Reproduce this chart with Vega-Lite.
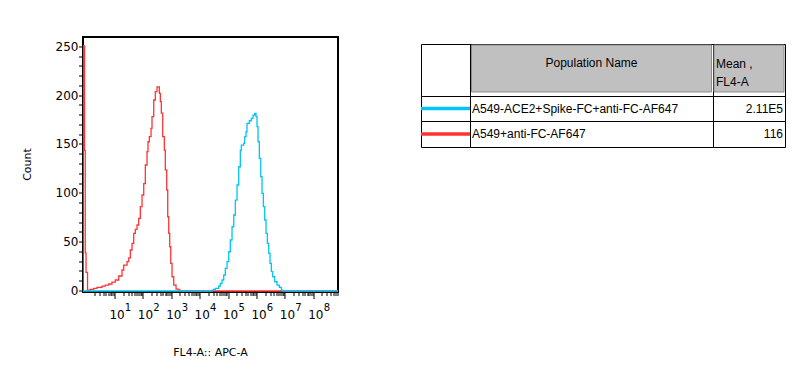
{
  "$schema": "https://vega.github.io/schema/vega-lite/v6.json",
  "padding": {"left": 20, "top": 36, "right": 5, "bottom": 5},
  "config": {
    "view": {"stroke": null},
    "font": "DejaVu Sans",
    "axis": {"translate": 0, "labelColor": "black", "tickColor": "black", "domainColor": "black", "titleColor": "black", "titleFontWeight": "normal", "grid": false},
    "text": {"font": "Liberation Sans", "fontSize": 12, "color": "black"}
  },
  "datasets": {
    "hist": [
      {"population": "A549+anti-FC-AF647", "fl4a": 0.75, "count": 0},
      {"population": "A549+anti-FC-AF647", "fl4a": 0.76, "count": 251},
      {"population": "A549+anti-FC-AF647", "fl4a": 0.843, "count": 144},
      {"population": "A549+anti-FC-AF647", "fl4a": 0.893, "count": 39},
      {"population": "A549+anti-FC-AF647", "fl4a": 0.953, "count": 19},
      {"population": "A549+anti-FC-AF647", "fl4a": 1.076, "count": 1},
      {"population": "A549+anti-FC-AF647", "fl4a": 1.35, "count": 1.7},
      {"population": "A549+anti-FC-AF647", "fl4a": 1.78, "count": 2.7},
      {"population": "A549+anti-FC-AF647", "fl4a": 2.32, "count": 3.8},
      {"population": "A549+anti-FC-AF647", "fl4a": 3.48, "count": 5.1},
      {"population": "A549+anti-FC-AF647", "fl4a": 4.55, "count": 6.1},
      {"population": "A549+anti-FC-AF647", "fl4a": 6.0, "count": 7.2},
      {"population": "A549+anti-FC-AF647", "fl4a": 7.8, "count": 9.2},
      {"population": "A549+anti-FC-AF647", "fl4a": 10.2, "count": 11.3},
      {"population": "A549+anti-FC-AF647", "fl4a": 13.5, "count": 15.4},
      {"population": "A549+anti-FC-AF647", "fl4a": 17.6, "count": 21.5},
      {"population": "A549+anti-FC-AF647", "fl4a": 20.2, "count": 26.6},
      {"population": "A549+anti-FC-AF647", "fl4a": 26.5, "count": 30},
      {"population": "A549+anti-FC-AF647", "fl4a": 30.4, "count": 34},
      {"population": "A549+anti-FC-AF647", "fl4a": 34.6, "count": 42},
      {"population": "A549+anti-FC-AF647", "fl4a": 39.7, "count": 48.8},
      {"population": "A549+anti-FC-AF647", "fl4a": 45.5, "count": 59},
      {"population": "A549+anti-FC-AF647", "fl4a": 51.9, "count": 63},
      {"population": "A549+anti-FC-AF647", "fl4a": 59.5, "count": 67.6},
      {"population": "A549+anti-FC-AF647", "fl4a": 68.3, "count": 74.4},
      {"population": "A549+anti-FC-AF647", "fl4a": 77.8, "count": 86.3},
      {"population": "A549+anti-FC-AF647", "fl4a": 89.3, "count": 98.3},
      {"population": "A549+anti-FC-AF647", "fl4a": 102.5, "count": 110},
      {"population": "A549+anti-FC-AF647", "fl4a": 116.7, "count": 129},
      {"population": "A549+anti-FC-AF647", "fl4a": 134, "count": 142.6},
      {"population": "A549+anti-FC-AF647", "fl4a": 145, "count": 152.8},
      {"population": "A549+anti-FC-AF647", "fl4a": 161.4, "count": 158},
      {"population": "A549+anti-FC-AF647", "fl4a": 185.2, "count": 166.5},
      {"population": "A549+anti-FC-AF647", "fl4a": 200.8, "count": 178.4},
      {"population": "A549+anti-FC-AF647", "fl4a": 230.5, "count": 195.5},
      {"population": "A549+anti-FC-AF647", "fl4a": 262.4, "count": 204},
      {"population": "A549+anti-FC-AF647", "fl4a": 301, "count": 209},
      {"population": "A549+anti-FC-AF647", "fl4a": 335, "count": 209},
      {"population": "A549+anti-FC-AF647", "fl4a": 363, "count": 202.4},
      {"population": "A549+anti-FC-AF647", "fl4a": 394, "count": 193.8},
      {"population": "A549+anti-FC-AF647", "fl4a": 427, "count": 182},
      {"population": "A549+anti-FC-AF647", "fl4a": 478, "count": 158},
      {"population": "A549+anti-FC-AF647", "fl4a": 544, "count": 144.3},
      {"population": "A549+anti-FC-AF647", "fl4a": 590, "count": 124},
      {"population": "A549+anti-FC-AF647", "fl4a": 661, "count": 103.4},
      {"population": "A549+anti-FC-AF647", "fl4a": 717, "count": 76},
      {"population": "A549+anti-FC-AF647", "fl4a": 778, "count": 59},
      {"population": "A549+anti-FC-AF647", "fl4a": 843, "count": 45.3},
      {"population": "A549+anti-FC-AF647", "fl4a": 915, "count": 28.4},
      {"population": "A549+anti-FC-AF647", "fl4a": 1016, "count": 14.6},
      {"population": "A549+anti-FC-AF647", "fl4a": 1167, "count": 6.1},
      {"population": "A549+anti-FC-AF647", "fl4a": 1406, "count": 2},
      {"population": "A549+anti-FC-AF647", "fl4a": 1750, "count": 1},
      {"population": "A549+anti-FC-AF647", "fl4a": 1991, "count": 0},
      {"population": "A549+anti-FC-AF647", "fl4a": 710000000, "count": 0},
      {"population": "A549-ACE2+Spike-FC+anti-FC-AF647", "fl4a": 0.75, "count": 0},
      {"population": "A549-ACE2+Spike-FC+anti-FC-AF647", "fl4a": 26000, "count": 1},
      {"population": "A549-ACE2+Spike-FC+anti-FC-AF647", "fl4a": 29850, "count": 1.7},
      {"population": "A549-ACE2+Spike-FC+anti-FC-AF647", "fl4a": 34030, "count": 2.7},
      {"population": "A549-ACE2+Spike-FC+anti-FC-AF647", "fl4a": 44800, "count": 5.1},
      {"population": "A549-ACE2+Spike-FC+anti-FC-AF647", "fl4a": 51050, "count": 7.9},
      {"population": "A549-ACE2+Spike-FC+anti-FC-AF647", "fl4a": 58600, "count": 11.3},
      {"population": "A549-ACE2+Spike-FC+anti-FC-AF647", "fl4a": 67200, "count": 16.4},
      {"population": "A549-ACE2+Spike-FC+anti-FC-AF647", "fl4a": 76500, "count": 23.2},
      {"population": "A549-ACE2+Spike-FC+anti-FC-AF647", "fl4a": 87900, "count": 30},
      {"population": "A549-ACE2+Spike-FC+anti-FC-AF647", "fl4a": 100900, "count": 40.2},
      {"population": "A549-ACE2+Spike-FC+anti-FC-AF647", "fl4a": 114800, "count": 52.2},
      {"population": "A549-ACE2+Spike-FC+anti-FC-AF647", "fl4a": 131800, "count": 65.8},
      {"population": "A549-ACE2+Spike-FC+anti-FC-AF647", "fl4a": 151300, "count": 77.8},
      {"population": "A549-ACE2+Spike-FC+anti-FC-AF647", "fl4a": 172200, "count": 93.1},
      {"population": "A549-ACE2+Spike-FC+anti-FC-AF647", "fl4a": 197700, "count": 108.5},
      {"population": "A549-ACE2+Spike-FC+anti-FC-AF647", "fl4a": 227000, "count": 127.2},
      {"population": "A549-ACE2+Spike-FC+anti-FC-AF647", "fl4a": 258200, "count": 144.3},
      {"population": "A549-ACE2+Spike-FC+anti-FC-AF647", "fl4a": 280000, "count": 149.4},
      {"population": "A549-ACE2+Spike-FC+anti-FC-AF647", "fl4a": 340400, "count": 151.2},
      {"population": "A549-ACE2+Spike-FC+anti-FC-AF647", "fl4a": 368900, "count": 158},
      {"population": "A549-ACE2+Spike-FC+anti-FC-AF647", "fl4a": 410200, "count": 163},
      {"population": "A549-ACE2+Spike-FC+anti-FC-AF647", "fl4a": 444600, "count": 171.6},
      {"population": "A549-ACE2+Spike-FC+anti-FC-AF647", "fl4a": 535800, "count": 174.3},
      {"population": "A549-ACE2+Spike-FC+anti-FC-AF647", "fl4a": 629500, "count": 176.8},
      {"population": "A549-ACE2+Spike-FC+anti-FC-AF647", "fl4a": 722800, "count": 180},
      {"population": "A549-ACE2+Spike-FC+anti-FC-AF647", "fl4a": 829800, "count": 181.9},
      {"population": "A549-ACE2+Spike-FC+anti-FC-AF647", "fl4a": 922600, "count": 178.4},
      {"population": "A549-ACE2+Spike-FC+anti-FC-AF647", "fl4a": 1000000, "count": 168.2},
      {"population": "A549-ACE2+Spike-FC+anti-FC-AF647", "fl4a": 1084000, "count": 152.8},
      {"population": "A549-ACE2+Spike-FC+anti-FC-AF647", "fl4a": 1205000, "count": 135.8},
      {"population": "A549-ACE2+Spike-FC+anti-FC-AF647", "fl4a": 1350000, "count": 117},
      {"population": "A549-ACE2+Spike-FC+anti-FC-AF647", "fl4a": 1500000, "count": 100},
      {"population": "A549-ACE2+Spike-FC+anti-FC-AF647", "fl4a": 1667000, "count": 86.3},
      {"population": "A549-ACE2+Spike-FC+anti-FC-AF647", "fl4a": 1866000, "count": 72.7},
      {"population": "A549-ACE2+Spike-FC+anti-FC-AF647", "fl4a": 2075000, "count": 59},
      {"population": "A549-ACE2+Spike-FC+anti-FC-AF647", "fl4a": 2306000, "count": 48.8},
      {"population": "A549-ACE2+Spike-FC+anti-FC-AF647", "fl4a": 2582000, "count": 38.6},
      {"population": "A549-ACE2+Spike-FC+anti-FC-AF647", "fl4a": 2871000, "count": 28.4},
      {"population": "A549-ACE2+Spike-FC+anti-FC-AF647", "fl4a": 3191000, "count": 19.8},
      {"population": "A549-ACE2+Spike-FC+anti-FC-AF647", "fl4a": 3573000, "count": 14.6},
      {"population": "A549-ACE2+Spike-FC+anti-FC-AF647", "fl4a": 4198000, "count": 9.5},
      {"population": "A549-ACE2+Spike-FC+anti-FC-AF647", "fl4a": 5058000, "count": 6.1},
      {"population": "A549-ACE2+Spike-FC+anti-FC-AF647", "fl4a": 6097000, "count": 3.8},
      {"population": "A549-ACE2+Spike-FC+anti-FC-AF647", "fl4a": 7178000, "count": 1},
      {"population": "A549-ACE2+Spike-FC+anti-FC-AF647", "fl4a": 8035000, "count": 0},
      {"population": "A549-ACE2+Spike-FC+anti-FC-AF647", "fl4a": 710000000, "count": 0}
    ],
    "populations": [
      {"population": "A549-ACE2+Spike-FC+anti-FC-AF647", "mean": "2.11E5"},
      {"population": "A549+anti-FC-AF647", "mean": "116"}
    ]
  },
  "spacing": 77,
  "hconcat": [
    {
      "width": 255,
      "height": 255,
      "view": {"stroke": "black", "strokeWidth": 2},
      "data": {"name": "hist"},
      "encoding": {
        "y": {"field": "count", "type": "quantitative",
          "scale": {"domain": [-1, 260], "nice": false, "zero": false},
          "axis": {"values": [0,10,20,30,40,50,60,70,80,90,100,110,120,130,140,150,160,170,180,190,200,210,220,230,240,250],
            "labelExpr": "datum.value % 50 === 0 ? datum.label : ''",
            "tickSize": 4, "tickWidth": 1, "domainWidth": 2, "labelPadding": 0.5,
            "labelFont": "DejaVu Sans", "labelFontSize": 12, "labelOverlap": false,
            "title": "Count", "titleFont": "DejaVu Sans", "titleFontSize": 11, "titlePadding": 23}},
        "color": {"field": "population", "type": "nominal",
          "scale": {"domain": ["A549-ACE2+Spike-FC+anti-FC-AF647", "A549+anti-FC-AF647"], "range": ["#00c4f4", "#ff3333"]},
          "legend": null}
      },
      "layer": [
        {
          "transform": [{"filter": "datum.population === 'A549+anti-FC-AF647'"}],
          "mark": {"type": "line", "interpolate": "step-after", "strokeWidth": 1.3, "clip": true},
          "encoding": {
            "x": {"field": "fl4a", "type": "quantitative",
              "scale": {"type": "log", "domain": [0.745, 710000000], "nice": false},
              "axis": {"orient": "bottom",
                "values": [2,3,4,5,6,7,8,9,10,20,30,40,50,60,70,80,90,100,200,300,400,500,600,700,800,900,1000,2000,3000,4000,5000,6000,7000,8000,9000,10000,20000,30000,40000,50000,60000,70000,80000,90000,100000,200000,300000,400000,500000,600000,700000,800000,900000,1000000,2000000,3000000,4000000,5000000,6000000,7000000,8000000,9000000,10000000,20000000,30000000,40000000,50000000,60000000,70000000,80000000,90000000,100000000,200000000,300000000,400000000,500000000,600000000,700000000],
                "labelExpr": "(datum.value >= 10 && abs(log(datum.value)/LN10 - round(log(datum.value)/LN10)) < 0.000001) ? '10' : ''",
                "tickSize": {"condition": {"test": "datum.value >= 10 && abs(log(datum.value)/LN10 - round(log(datum.value)/LN10)) < 0.000001", "value": 7}, "value": 4},
                "tickWidth": 1, "domainWidth": 2,
                "labelFont": "DejaVu Sans", "labelFontSize": 12, "labelPadding": 11, "labelOffset": 2,
                "labelOverlap": false, "labelFlush": false, "labelBound": false,
                "title": "FL4-A:: APC-A", "titleFont": "DejaVu Sans", "titleFontSize": 11, "titlePadding": 26}}
          }
        },
        {
          "transform": [{"filter": "datum.population === 'A549-ACE2+Spike-FC+anti-FC-AF647'"}],
          "mark": {"type": "line", "interpolate": "step-after", "strokeWidth": 1.3, "clip": true},
          "encoding": {
            "x": {"field": "fl4a", "type": "quantitative",
              "axis": {"orient": "bottom",
                "values": [10,100,1000,10000,100000,1000000,10000000,100000000],
                "labelExpr": "'' + round(log(datum.value)/LN10)",
                "ticks": false, "tickSize": 0, "domain": false,
                "labelFont": "DejaVu Sans", "labelFontSize": 10, "labelPadding": 11, "labelOffset": 13,
                "labelOverlap": false, "labelFlush": false, "labelBound": false,
                "title": null}}
          }
        }
      ],
      "resolve": {"axis": {"x": "independent"}}
    },
    {
      "spacing": 0,
      "vconcat": [
        {
          "width": 1, "height": 5.5,
          "data": {"values": []},
          "mark": {"type": "point", "opacity": 0},
          "encoding": {}
        },
        {
          "columns": 3,
          "spacing": 0,
          "bounds": "flush",
          "align": "each",
          "concat": [
            {
              "width": 49, "height": 52,
              "view": {"stroke": "black", "strokeWidth": 1},
              "data": {"values": [{"label": ""}]},
              "mark": {"type": "text"},
              "encoding": {"text": {"field": "label"}}
            },
            {
              "width": 243, "height": 52,
              "view": {"stroke": "black", "strokeWidth": 1},
              "data": {"values": [{"label": "Population Name"}]},
              "layer": [
                {
                  "mark": {"type": "rect", "fill": "#c0c0c0", "stroke": "#8c8c8c", "strokeWidth": 1},
                  "encoding": {
                    "x": {"field": "label", "type": "nominal", "axis": null, "scale": {"type": "band", "paddingInner": 0, "paddingOuter": 0.00625}},
                    "y": {"field": "label", "type": "nominal", "axis": null, "scale": {"type": "band", "paddingInner": 0, "paddingOuter": 0.0532, "align": 0.2}}
                  }
                },
                {
                  "mark": {"type": "text", "dy": -7},
                  "encoding": {"text": {"field": "label"}}
                }
              ]
            },
            {
              "width": 72, "height": 52,
              "view": {"stroke": "black", "strokeWidth": 1},
              "data": {"values": [{"label": "Mean ,\nFL4-A"}]},
              "layer": [
                {
                  "mark": {"type": "rect", "fill": "#c0c0c0", "stroke": "#8c8c8c", "strokeWidth": 1},
                  "encoding": {
                    "x": {"field": "label", "type": "nominal", "axis": null, "scale": {"type": "band", "paddingInner": 0, "paddingOuter": 0.0143}},
                    "y": {"field": "label", "type": "nominal", "axis": null, "scale": {"type": "band", "paddingInner": 0, "paddingOuter": 0.0532, "align": 0.2}}
                  }
                },
                {
                  "mark": {"type": "text", "align": "left", "dx": 2, "dy": -6.5, "lineBreak": "\n", "lineHeight": 18},
                  "encoding": {
                    "x": {"field": "label", "type": "nominal", "bandPosition": 0},
                    "text": {"field": "label"}
                  }
                }
              ]
            },
            {
              "width": 49, "height": 25,
              "view": {"stroke": "black", "strokeWidth": 1},
              "data": {"name": "populations"},
              "transform": [{"filter": "datum.population === 'A549-ACE2+Spike-FC+anti-FC-AF647'"}],
              "mark": {"type": "rule", "strokeWidth": 3.5},
              "encoding": {
                "y": {"field": "population", "type": "nominal", "axis": null},
                "color": {"field": "population", "type": "nominal", "legend": null,
                  "scale": {"domain": ["A549-ACE2+Spike-FC+anti-FC-AF647", "A549+anti-FC-AF647"], "range": ["#00c4f4", "#ff3333"]}}
              }
            },
            {
              "width": 243, "height": 25,
              "view": {"stroke": "black", "strokeWidth": 1},
              "data": {"name": "populations"},
              "transform": [{"filter": "datum.population === 'A549-ACE2+Spike-FC+anti-FC-AF647'"}],
              "mark": {"type": "text", "align": "left", "dx": 2},
              "encoding": {
                "x": {"field": "population", "type": "nominal", "axis": null, "bandPosition": 0, "scale": {"type": "band", "paddingInner": 0, "paddingOuter": 0}},
                "text": {"field": "population"}
              }
            },
            {
              "width": 72, "height": 25,
              "view": {"stroke": "black", "strokeWidth": 1},
              "data": {"name": "populations"},
              "transform": [{"filter": "datum.population === 'A549-ACE2+Spike-FC+anti-FC-AF647'"}],
              "mark": {"type": "text", "align": "right", "dx": -2},
              "encoding": {
                "x": {"field": "population", "type": "nominal", "axis": null, "bandPosition": 1, "scale": {"type": "band", "paddingInner": 0, "paddingOuter": 0}},
                "text": {"field": "mean"}
              }
            },
            {
              "width": 49, "height": 26,
              "view": {"stroke": "black", "strokeWidth": 1},
              "data": {"name": "populations"},
              "transform": [{"filter": "datum.population === 'A549+anti-FC-AF647'"}],
              "mark": {"type": "rule", "strokeWidth": 3.5},
              "encoding": {
                "y": {"field": "population", "type": "nominal", "axis": null},
                "color": {"field": "population", "type": "nominal", "legend": null,
                  "scale": {"domain": ["A549-ACE2+Spike-FC+anti-FC-AF647", "A549+anti-FC-AF647"], "range": ["#00c4f4", "#ff3333"]}}
              }
            },
            {
              "width": 243, "height": 26,
              "view": {"stroke": "black", "strokeWidth": 1},
              "data": {"name": "populations"},
              "transform": [{"filter": "datum.population === 'A549+anti-FC-AF647'"}],
              "mark": {"type": "text", "align": "left", "dx": 2},
              "encoding": {
                "x": {"field": "population", "type": "nominal", "axis": null, "bandPosition": 0, "scale": {"type": "band", "paddingInner": 0, "paddingOuter": 0}},
                "text": {"field": "population"}
              }
            },
            {
              "width": 72, "height": 26,
              "view": {"stroke": "black", "strokeWidth": 1},
              "data": {"name": "populations"},
              "transform": [{"filter": "datum.population === 'A549+anti-FC-AF647'"}],
              "mark": {"type": "text", "align": "right", "dx": -2},
              "encoding": {
                "x": {"field": "population", "type": "nominal", "axis": null, "bandPosition": 1, "scale": {"type": "band", "paddingInner": 0, "paddingOuter": 0}},
                "text": {"field": "mean"}
              }
            }
          ]
        }
      ]
    }
  ]
}
